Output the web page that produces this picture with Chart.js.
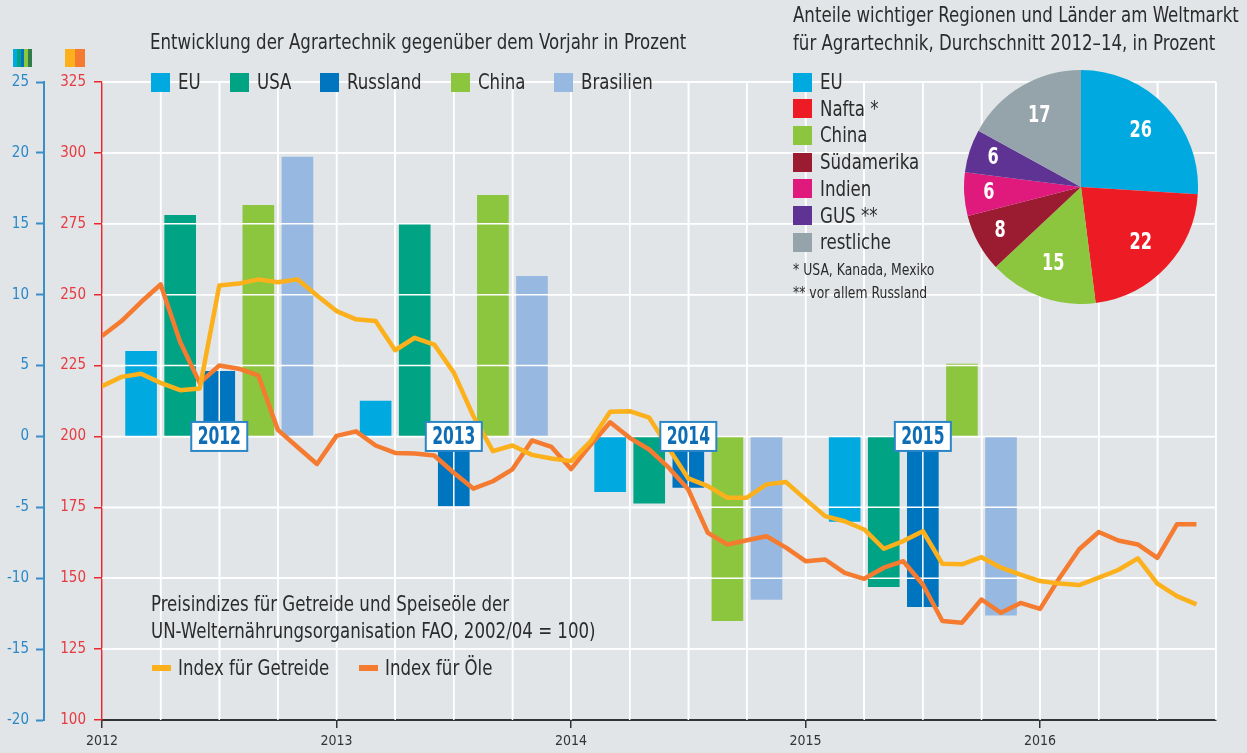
<!DOCTYPE html>
<html lang="de">
<head>
<meta charset="utf-8">
<title>Agrartechnik und Preisindizes</title>
<script src="https://cdn.jsdelivr.net/npm/chart.js@4.4.1/dist/chart.umd.min.js"></script>
<style>
  body { margin: 0; background: #e1e5e8; }
  #wrap {
    position: relative; width: 1247px; height: 753px; overflow: hidden;
    font-family: "Liberation Sans Narrow", "DejaVu Sans Condensed", sans-serif;
    color: #2b2b2b;
  }
  canvas { position: absolute; }
  .txt { position: absolute; white-space: nowrap; }
  .row { position: absolute; display: flex; align-items: center; white-space: nowrap; }
  .sq { display: inline-block; width: 19px; height: 19px; margin-right: 8px; flex: none; }
  .sw { display: inline-block; width: 19px; height: 6px; margin-right: 7px; flex: none; }
  .item { display: flex; align-items: center; }
  .c { display: inline-block; transform: scaleX(0.88); transform-origin: 0 50%; }
  .icon { position: absolute; top: 49px; height: 18px; display: flex; }
  .icon span { display: block; height: 18px; }
</style>
</head>
<body>
<div id="wrap">
  <canvas id="main" width="1247" height="753" style="left:0;top:0"></canvas>
  <canvas id="pie" width="234" height="234" style="left:964px;top:70px"></canvas>

  <div class="icon" id="iconPct" style="left:13px"></div>
  <div class="icon" id="iconIdx" style="left:65px"></div>

  <div class="txt" style="left:150px;top:30px;font-size:21px;line-height:24px"><span class="c">Entwicklung der Agrartechnik gegenüber dem Vorjahr in Prozent</span></div>
  <div class="row" id="barLegend" style="left:151px;top:70px;font-size:21px;line-height:24px"></div>

  <div class="txt" style="left:793px;top:1px;font-size:21px;line-height:28px"><span class="c">Anteile wichtiger Regionen und Länder am Weltmarkt<br>für Agrartechnik, Durchschnitt 2012–14, in Prozent</span></div>
  <div id="pieLegend"></div>
  <div class="txt" style="left:793px;top:259px;font-size:15px;line-height:23px"><span class="c" style="transform:scaleX(0.92)">* USA, Kanada, Mexiko<br>** vor allem Russland</span></div>

  <div class="txt" style="left:151px;top:591px;font-size:21px;line-height:27px"><span class="c">Preisindizes für Getreide und Speiseöle der<br>UN-Welternährungsorganisation FAO, 2002/04 = 100)</span></div>
  <div class="row" id="lineLegend" style="left:152px;top:656px;font-size:21px;line-height:24px"></div>
</div>

<script>
// Balken: Veränderung gegenüber Vorjahr in Prozent
const years = [2012, 2013, 2014, 2015];
const regions = ["EU", "USA", "Russland", "China", "Brasilien"];
const euValues = [6.0, 2.5, -3.9, -6.0];
const usaValues = [15.6, 15.0, -4.7, -10.6];
const russlandValues = [4.6, -4.9, -3.6, -12.0];
const chinaValues = [16.3, 17.0, -13.0, 5.1];
const brasilienValues = [19.7, 11.3, -11.5, -12.6];

// FAO-Preisindizes, monatlich ab Januar 2012
const startYear = 2012;
const getreideIndex = [
  217.7, 221.0, 222.1, 218.9, 216.3, 216.9, 253.2, 253.9, 255.4, 254.4, 255.4, 249.7,
  244.2, 241.3, 240.7, 230.4, 234.8, 232.4, 222.5, 207.2, 194.8, 196.8, 193.5, 192.2,
  191.3, 198.3, 208.7, 208.9, 206.6, 195.8, 185.2, 182.5, 178.4, 178.4, 183.1, 183.9,
  177.8, 171.9, 170.1, 167.2, 160.4, 163.1, 166.6, 155.1, 154.9, 157.4, 153.7, 151.3,
  149.0, 148.1, 147.6, 150.2, 152.9, 157.0, 148.1, 143.7, 140.8
];
const oeleIndex = [
  235.4, 240.7, 247.4, 253.6, 233.3, 218.9, 225.0, 223.9, 221.5, 202.3, 196.3, 190.3,
  200.2, 201.8, 196.8, 194.2, 194.0, 193.3, 187.2, 181.6, 184.2, 188.4, 198.6, 196.3,
  188.5, 197.0, 205.0, 199.5, 195.4, 189.0, 181.3, 166.0, 161.9, 163.4, 164.8, 160.8,
  156.0, 156.6, 151.9, 149.8, 153.7, 156.0, 147.8, 134.9, 134.3, 142.5, 137.8, 141.3,
  139.2, 150.2, 160.2, 166.3, 163.3, 161.9, 157.2, 169.0, 169.0
];

// Kreisdiagramm: Weltmarktanteile
const shareLabels = ["EU", "Nafta *", "China", "Südamerika", "Indien", "GUS **", "restliche"];
const shareValues = [26, 22, 15, 8, 6, 6, 17];

const pctTicks = { min: -20, max: 25, step: 5 };
const idxTicks = { min: 100, max: 325, step: 25 };

const barColors = ["#00a9e0", "#00a383", "#0075bf", "#8cc63f", "#97b9e1"];
const shareColors = ["#00a9e0", "#ed1c24", "#8cc63f", "#9b1b30", "#e0197d", "#5f3393", "#95a3aa"];
const getreideColor = "#fbb01c";
const oeleColor = "#f47b30";
const font = "'Liberation Sans Narrow', 'DejaVu Sans Condensed', sans-serif";

Chart.defaults.font.family = font;

// Legenden
const barLegend = document.getElementById("barLegend");
regions.forEach((r, i) => {
  const el = document.createElement("div");
  el.className = "item";
  el.style.marginRight = "29px";
  el.innerHTML = `<span class="sq" style="background:${barColors[i]}"></span><span class="c">${r}</span>`;
  barLegend.appendChild(el);
});

const pieLegend = document.getElementById("pieLegend");
shareLabels.forEach((l, i) => {
  const el = document.createElement("div");
  el.className = "row";
  el.style.cssText = `left:793px;top:${70 + i * 26.7}px;font-size:21px;line-height:24px`;
  el.innerHTML = `<span class="sq" style="background:${shareColors[i]}"></span><span class="c">${l}</span>`;
  pieLegend.appendChild(el);
});

const lineLegend = document.getElementById("lineLegend");
[["Index für Getreide", getreideColor], ["Index für Öle", oeleColor]].forEach(([l, c]) => {
  const el = document.createElement("div");
  el.className = "item";
  el.style.marginRight = "30px";
  el.innerHTML = `<span class="sw" style="background:${c}"></span><span class="c">${l}</span>`;
  lineLegend.appendChild(el);
});

// gestauchte Schrift: Layoutbreite an die Stauchung anpassen
document.querySelectorAll(".c").forEach((el) => {
  const w = el.offsetWidth;
  el.style.marginRight = (-w * 0.12) + "px";
});

["#00a9e0", "#00a383", "#0075bf", "#8cc63f", "#2e7d4a"].forEach((c) => {
  const s = document.createElement("span");
  s.style.cssText = `width:3.8px;background:${c}`;
  document.getElementById("iconPct").appendChild(s);
});
[getreideColor, oeleColor].forEach((c) => {
  const s = document.createElement("span");
  s.style.cssText = `width:10px;background:${c}`;
  document.getElementById("iconIdx").appendChild(s);
});

// Balken liegen innerhalb des Jahres im Abstand von zwei Monaten
const barSlot = [2, 4, 6, 8, 10];
const barSeries = [euValues, usaValues, russlandValues, chinaValues, brasilienValues];

const barDatasets = barSeries.map((vals, k) => ({
  type: "bar",
  label: regions[k],
  data: years.map((y, i) => ({ x: (y - startYear) * 12 + barSlot[k], y: vals[i] })),
  backgroundColor: barColors[k],
  borderWidth: 0,
  barThickness: 31,
  grouped: false,
  yAxisID: "pct",
  order: 2
}));

const toPoints = (arr) => arr.map((v, i) => ({ x: i, y: v }));

const lineDatasets = [
  {
    type: "line", label: "Index für Getreide", data: toPoints(getreideIndex),
    borderColor: getreideColor, borderWidth: 4.5, pointRadius: 0, tension: 0,
    borderJoinStyle: "round", yAxisID: "idx", order: 0
  },
  {
    type: "line", label: "Index für Öle", data: toPoints(oeleIndex),
    borderColor: oeleColor, borderWidth: 4.5, pointRadius: 0, tension: 0,
    borderJoinStyle: "round", yAxisID: "idx", order: 1
  }
];

// Gitter liegt über den Balken, aber unter den Linien
const gridOverBars = {
  id: "gridOverBars",
  beforeDatasetsDraw(chart) { chart.$gridDone = false; },
  beforeDatasetDraw(chart, args) {
    if (chart.$gridDone || args.meta.type !== "line") return;
    chart.$gridDone = true;
    const a = chart.chartArea, ctx = chart.ctx;
    ctx.save();
    ctx.strokeStyle = "#ffffff";
    ctx.lineWidth = 1.5;
    ctx.beginPath();
    chart.scales.x.ticks.forEach((t) => {
      const px = chart.scales.x.getPixelForValue(t.value);
      if (px <= a.left + 1) return;
      ctx.moveTo(px, a.top);
      ctx.lineTo(px, a.bottom);
    });
    chart.scales.idx.ticks.forEach((t) => {
      const py = chart.scales.idx.getPixelForValue(t.value);
      if (py >= a.bottom - 1) return;
      ctx.moveTo(a.left, py);
      ctx.lineTo(a.right, py);
    });
    ctx.stroke();
    ctx.restore();
  }
};

// gestauchte Canvas-Schrift für Kästchen und Tortenzahlen
function condensedText(ctx, text, x, y, sx) {
  ctx.save();
  ctx.translate(x, y);
  ctx.scale(sx, 1);
  ctx.fillText(text, 0, 0);
  ctx.restore();
}

// Jahreskästchen an der Nulllinie über dem Russland-Balken
const yearBoxes = {
  id: "yearBoxes",
  afterDatasetsDraw(chart) {
    const ctx = chart.ctx;
    ctx.save();
    ctx.font = `bold 24px ${font}`;
    ctx.textAlign = "center";
    ctx.textBaseline = "middle";
    years.forEach((y) => {
      const cx = chart.scales.x.getPixelForValue((y - startYear) * 12 + barSlot[2]);
      const cy = chart.scales.pct.getPixelForValue(0);
      const w = 56, h = 29;
      ctx.fillStyle = "#ffffff";
      ctx.fillRect(cx - w / 2, cy - h / 2, w, h);
      ctx.strokeStyle = "#2b86c8";
      ctx.lineWidth = 2;
      ctx.strokeRect(cx - w / 2, cy - h / 2, w, h);
      ctx.fillStyle = "#0f6db5";
      condensedText(ctx, String(y), cx, cy + 1, 0.72);
    });
    ctx.restore();
  }
};

new Chart(document.getElementById("main"), {
  type: "bar",
  data: { datasets: [...lineDatasets, ...barDatasets] },
  options: {
    responsive: false,
    animation: false,
    devicePixelRatio: 1,
    layout: { padding: { top: 82, right: 31, left: 0, bottom: 0 } },
    plugins: { legend: { display: false }, tooltip: { enabled: false } },
    scales: {
      x: {
        type: "linear",
        offset: false,
        min: 0,
        max: getreideIndex.length,
        afterFit(s) { s.height = 33; },
        ticks: {
          stepSize: 3, autoSkip: false, maxRotation: 0, padding: 5,
          color: "#333333", font: { size: 14 },
          callback: (v) => (v % 12 === 0 ? String(startYear + v / 12) : "")
        },
        grid: {
          offset: false,
          color: "#ffffff", lineWidth: 1.5, tickLength: 8, tickWidth: 1.5,
          tickColor: (c) => (c.tick && c.tick.value % 12 === 0 ? "#333333" : "rgba(0,0,0,0)")
        },
        border: { color: "#333333", width: 2 }
      },
      pct: {
        type: "linear", position: "left", weight: 1,
        min: pctTicks.min, max: pctTicks.max,
        afterFit(s) { s.width = 44; },
        ticks: { stepSize: pctTicks.step, color: "#2a88c8", padding: 7, font: { size: 15 } },
        grid: { drawOnChartArea: false, tickLength: 8, tickColor: "#3a8fc9", tickWidth: 2 },
        border: { color: "#3a8fc9", width: 2 }
      },
      idx: {
        type: "linear", position: "left", weight: 0,
        min: idxTicks.min, max: idxTicks.max,
        afterFit(s) { s.width = 58; },
        ticks: { stepSize: idxTicks.step, color: "#e63a3f", padding: 8, font: { size: 15 } },
        grid: { color: "#ffffff", lineWidth: 1.5, tickLength: 8, tickColor: "#e8282e", tickWidth: 1.5 },
        border: { color: "#e8282e", width: 1.5 }
      }
    }
  },
  plugins: [gridOverBars, yearBoxes]
});

// Zahlen in den Tortenstücken
const pieLabels = {
  id: "pieLabels",
  afterDatasetsDraw(chart) {
    const ctx = chart.ctx;
    ctx.save();
    ctx.font = `bold 23px ${font}`;
    ctx.fillStyle = "#ffffff";
    ctx.textAlign = "center";
    ctx.textBaseline = "middle";
    chart.getDatasetMeta(0).data.forEach((arc, i) => {
      const mid = (arc.startAngle + arc.endAngle) / 2;
      const r = arc.outerRadius * (shareValues[i] > 10 ? 0.7 : 0.79);
      condensedText(ctx, String(shareValues[i]), arc.x + Math.cos(mid) * r, arc.y + Math.sin(mid) * r, 0.78);
    });
    ctx.restore();
  }
};

new Chart(document.getElementById("pie"), {
  type: "pie",
  data: {
    labels: shareLabels,
    datasets: [{ data: shareValues, backgroundColor: shareColors, borderWidth: 0 }]
  },
  options: {
    responsive: false,
    animation: false,
    devicePixelRatio: 1,
    layout: { padding: 0 },
    plugins: { legend: { display: false }, tooltip: { enabled: false } }
  },
  plugins: [pieLabels]
});
</script>
</body>
</html>
